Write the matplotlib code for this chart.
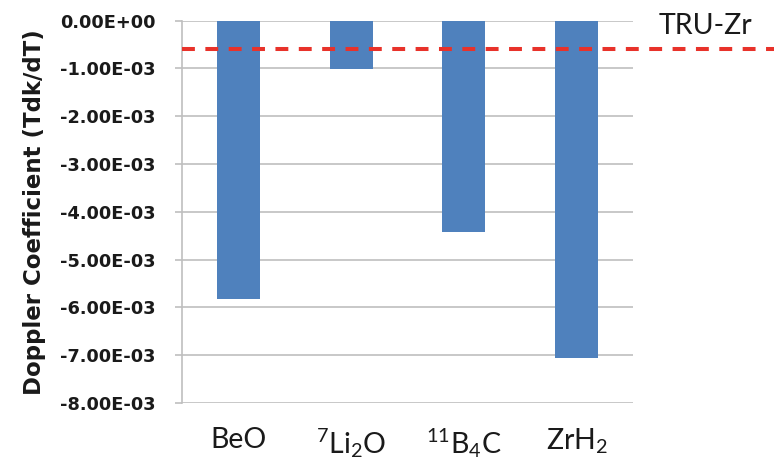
import matplotlib
matplotlib.use('Agg')
import matplotlib.pyplot as plt
import numpy as np

plt.rcParams['mathtext.fontset'] = 'custom'
plt.rcParams['mathtext.rm'] = 'Lato'
plt.rcParams['mathtext.it'] = 'Lato:italic'

# data
materials = [r'BeO', r'$^{7}$Li$_{2}$O', r'$^{11}$B$_{4}$C', r'ZrH$_{2}$']
doppler = [-5.82e-3, -1.02e-3, -4.43e-3, -7.06e-3]
tru_zr = -0.6e-3
yticks = [0, -1e-3, -2e-3, -3e-3, -4e-3, -5e-3, -6e-3, -7e-3, -8e-3]

BAR = '#4F81BD'
GRID = '#BFBFBF'
RED = '#E8322A'

fig = plt.figure(figsize=(7.74, 4.68), dpi=100)
ax = fig.add_axes([0.235, 0.139, 0.583, 0.817])

x = np.arange(len(materials))
ax.bar(x, doppler, width=0.38, color=BAR, zorder=3)

ax.set_xlim(-0.5, len(materials) - 0.5)
ax.set_ylim(-8e-3, 0)
ax.set_yticks(yticks)
ax.set_yticklabels([f'{v:.2E}' for v in yticks], fontsize=12.8,
                   fontweight='bold', family='DejaVu Sans', color='#1a1a1a')
ax.yaxis.grid(True, color=GRID, lw=1.2, zorder=0)
ax.set_axisbelow(True)

ax.set_xticks(x)
ax.set_xticklabels(materials, fontsize=20.5, family='Lato', color='#1a1a1a')
ax.tick_params(axis='x', length=0, pad=17)
ax.tick_params(axis='y', length=5, color=GRID, width=1.2, pad=14)

for s in ['top', 'right', 'bottom']:
    ax.spines[s].set_visible(False)
ax.spines['left'].set_color(GRID)
ax.spines['left'].set_linewidth(1.2)

# TRU-Zr reference line runs past the plot area
ax.plot([0, 1.32], [tru_zr, tru_zr], transform=ax.get_yaxis_transform(),
        color=RED, lw=2.9, ls=(0, (3.2, 2.6)), clip_on=False, zorder=4)
ax.text(1.16, 0.985, 'TRU-Zr', transform=ax.transAxes, fontsize=20.5,
        family='Lato', color='#1a1a1a', ha='center', va='center')

ax.set_ylabel('Doppler Coefficient (Tdk/dT)', fontsize=16.5, fontweight='bold',
              family='DejaVu Sans', color='#1a1a1a', labelpad=10)

fig.savefig('out.png', dpi=100, facecolor='white')
